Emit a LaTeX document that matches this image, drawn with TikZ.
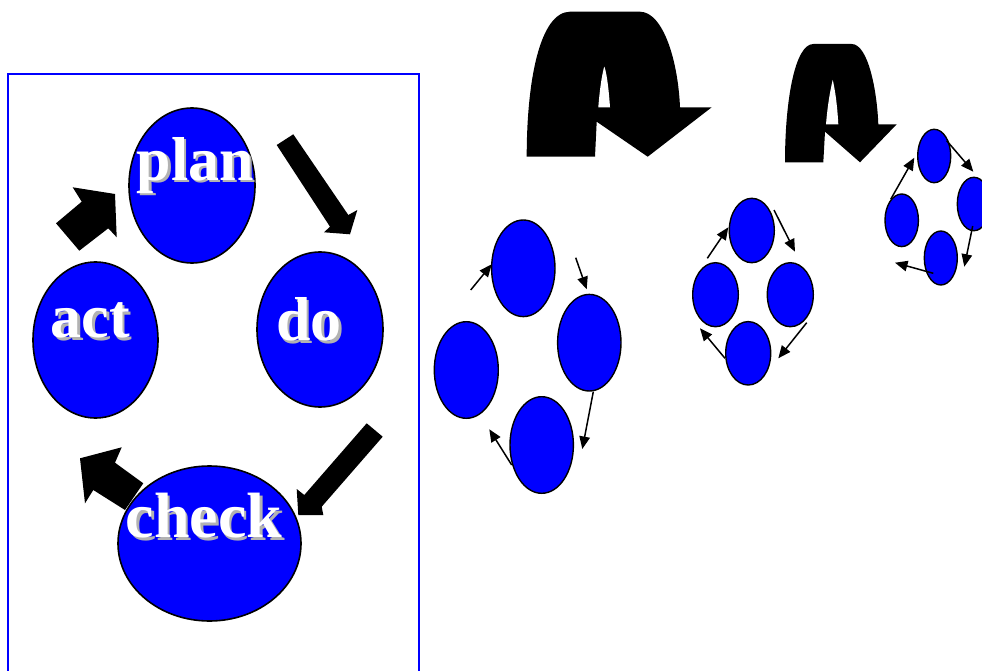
\documentclass[tikz,border=0pt]{standalone}
\usepackage{fontspec}
\setmainfont{Liberation Serif}
\usetikzlibrary{shapes.geometric,arrows.meta}
\newcommand\shadowed[1]{\rlap{\kern2.5pt\raisebox{-2.5pt}{\textcolor{black!30}{#1}}}#1}
\tikzset{
  bigell/.style={ellipse, draw=black, line width=1.6pt, fill=blue, inner sep=0pt},
  smell/.style={ellipse, draw=black, line width=1.4pt, fill=blue, inner sep=0pt},
  thinarr/.style={line width=1.5pt, -{Triangle[length=12.5pt,width=10.5pt]}},
  lbl/.style={anchor=base, inner sep=0pt, text=white, font=\fontsize{62}{70}\selectfont\bfseries},
  blockarrow/.style={fill=black},
}
\begin{document}
\begin{tikzpicture}[x=1pt,y=-1pt]
\useasboundingbox (0,0) rectangle (982,671);
\clip (0,0) rectangle (982,671);

% frame
\draw[blue, line width=1.3pt] (8,74) rectangle (419,700);

% ---- main cycle: block arrows ----
\coordinate (ap1) at (56,223.3);
\fill[blockarrow] (ap1) -- (81.7,201.7) -- (72.7,187.3) -- (115,194) -- (116.7,237.3) -- (108.3,228.3) -- (79.3,250.7) -- cycle;
\coordinate (pd1) at (276.7,145);
\fill[blockarrow] (pd1) -- (293.3,134.3) -- (348.3,215) -- (357.3,210) -- (350,234.3) -- (324,232.3) -- (330,226.7) -- cycle;
\coordinate (dc1) at (366.7,423.3);
\fill[blockarrow] (dc1) -- (382.7,436.7) -- (321.7,506.7) -- (323.3,515) -- (298.3,515) -- (296.7,489) -- (304.3,495) -- cycle;
\coordinate (ca1) at (143.3,483.3);
\fill[blockarrow] (ca1) -- (115,462.7) -- (121.7,447.3) -- (80,458.3) -- (85,503.3) -- (93.3,490) -- (125,510) -- cycle;

% ---- main cycle: ellipses ----
\node[bigell, minimum width=126pt, minimum height=155pt] (plan) at (192,185.5) {};
\node[bigell, minimum width=126pt, minimum height=155pt] (do) at (320,329.5) {};
\node[bigell, minimum width=125pt, minimum height=156pt] (act) at (95.5,340) {};
\node[bigell, minimum width=183pt, minimum height=155pt] (check) at (209.5,543.5) {};

% labels with shadow
\node[lbl] (planlbl) at (195.2,180.5) {\shadowed{plan}};
\node[lbl] (actlbl) at (90.3,337.5) {\shadowed{act}};
\node[lbl] (dolbl) at (309.2,340.5) {\shadowed{do}};
\node[lbl, font=\fontsize{64}{72}\selectfont\bfseries] (checklbl) at (204,537.5) {\shadowed{check}};

% ---- U-turn arrows ----
\fill[black] (526.7,156.7) .. controls (526.7,80) and (540,12) .. (570,11.7) -- (640,11.7)
  .. controls (663,12) and (678,60) .. (680,107.3) -- (711.7,107.3) -- (647.7,156.7)
  -- (596.7,121.7) -- (595,156.7) -- cycle;
\fill[white] (598.3,107.3) .. controls (600,85) and (603,70) .. (604.3,66.7)
  .. controls (606,70) and (608.5,85) .. (610,107.3) -- cycle;

\fill[black] (785,162.3) .. controls (785,100) and (795,44) .. (813.3,44) -- (851.7,44)
  .. controls (868,44) and (877,90) .. (878.3,124.3) -- (896.7,124.3) -- (860,162.3)
  -- (825,131.7) -- (823.3,162.3) -- cycle;
\fill[white] (826,124.3) .. controls (828,100) and (831.5,85) .. (832.7,80)
  .. controls (834,85) and (837,100) .. (838.3,124.3) -- cycle;

% ---- cycle 2 ----
\node[smell, minimum width=63.4pt, minimum height=96.6pt] (c2t) at (523.3,268.3) {};
\node[smell, minimum width=63.4pt, minimum height=96.6pt] (c2r) at (589.3,342.7) {};
\node[smell, minimum width=64pt, minimum height=96.6pt] (c2l) at (466.3,370) {};
\node[smell, minimum width=63.4pt, minimum height=96.6pt] (c2b) at (541.7,445) {};
\coordinate (c2a1) at (470.7,290);   \coordinate (c2a1e) at (491.7,264.3);
\coordinate (c2a2) at (575.7,257.7); \coordinate (c2a2e) at (586.7,289.3);
\coordinate (c2a3) at (593.3,391.7); \coordinate (c2a3e) at (582.3,449);
\coordinate (c2a4) at (511.7,465);   \coordinate (c2a4e) at (489.3,429.3);
\draw[thinarr] (c2a1) -- (c2a1e);
\draw[thinarr] (c2a2) -- (c2a2e);
\draw[thinarr] (c2a3) -- (c2a3e);
\draw[thinarr] (c2a4) -- (c2a4e);

% ---- cycle 3 ----
\node[smell, minimum width=45pt, minimum height=64.4pt] (c3t) at (751.8,230.5) {};
\node[smell, minimum width=45.6pt, minimum height=64pt] (c3l) at (715.5,294.7) {};
\node[smell, minimum width=46pt, minimum height=64pt] (c3r) at (790.3,294.7) {};
\node[smell, minimum width=45pt, minimum height=63.4pt] (c3b) at (748.2,353.3) {};
\coordinate (c3a1) at (707.3,258.3); \coordinate (c3a1e) at (728.3,227.3);
\coordinate (c3a2) at (774,210);     \coordinate (c3a2e) at (795,251.7);
\coordinate (c3a3) at (806.7,322.7); \coordinate (c3a3e) at (778.3,358.3);
\coordinate (c3a4) at (725,358.3);   \coordinate (c3a4e) at (700,328.3);
\draw[thinarr] (c3a1) -- (c3a1e);
\draw[thinarr] (c3a2) -- (c3a2e);
\draw[thinarr] (c3a3) -- (c3a3e);
\draw[thinarr] (c3a4) -- (c3a4e);

% ---- cycle 4 ----
\node[smell, minimum width=33pt, minimum height=53.4pt] (c4t) at (934.2,156) {};
\node[smell, minimum width=33pt, minimum height=53.4pt] (c4r) at (973.8,204) {};
\node[smell, minimum width=33.4pt, minimum height=52.6pt] (c4l) at (901.7,220.3) {};
\node[smell, minimum width=33pt, minimum height=54pt] (c4b) at (940.8,258) {};
\coordinate (c4a1) at (890.7,199.3); \coordinate (c4a1e) at (914.3,157.7);
\coordinate (c4a2) at (946.7,140.7); \coordinate (c4a2e) at (973.3,171.7);
\coordinate (c4a3) at (972.7,226);   \coordinate (c4a3e) at (964.3,266.7);
\coordinate (c4a4) at (933.3,273.3); \coordinate (c4a4e) at (895,262.7);
\draw[thinarr] (c4a1) -- (c4a1e);
\draw[thinarr] (c4a2) -- (c4a2e);
\draw[thinarr] (c4a3) -- (c4a3e);
\draw[thinarr] (c4a4) -- (c4a4e);
\end{tikzpicture}
\end{document}
